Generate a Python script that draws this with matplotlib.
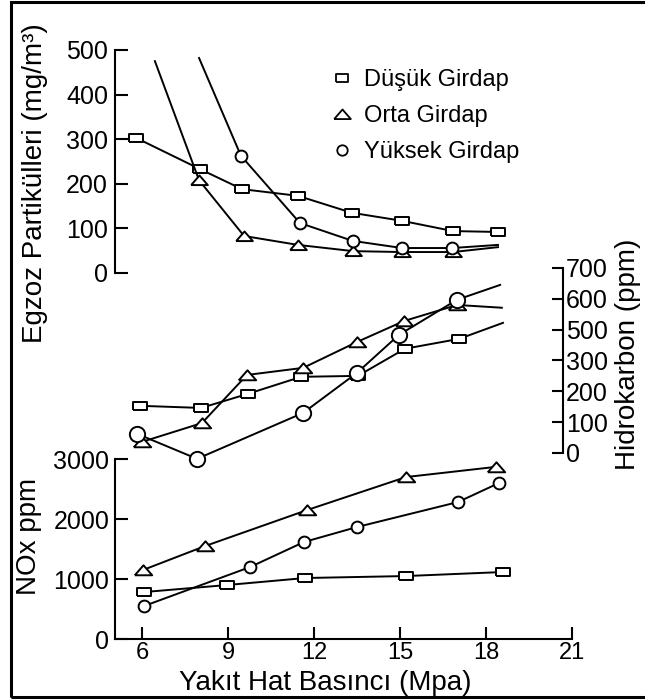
import numpy as np
import matplotlib
matplotlib.use("Agg")
import matplotlib.pyplot as plt
from matplotlib.lines import Line2D
from matplotlib.patches import Rectangle

plt.rcParams["font.family"] = ["Liberation Sans", "DejaVu Sans"]

# ===========================
# Data
# ===========================

series_names = ["Düşük Girdap", "Orta Girdap", "Yüksek Girdap"]

# Egzoz partikülleri (mg/m3)
pm_low_x = [5.79, 8.02, 9.49, 11.44, 13.32, 15.07, 16.85, 18.42]
pm_low_y = [303, 233, 188, 173, 135, 117, 94, 92]
pm_mid_x = [6.45, 7.99, 9.56, 11.44, 13.37, 15.07, 16.85, 18.42]
pm_mid_y = [475, 208, 83, 63, 49, 47, 47, 58]
pm_high_x = [7.99, 9.45, 11.51, 13.35, 15.07, 16.82, 18.42]
pm_high_y = [482, 263, 112, 72, 56, 56, 63]

# Hidrokarbon (ppm)
hc_low_x = [5.93, 8.06, 9.70, 11.55, 13.53, 15.17, 17.06, 18.59]
hc_low_y = [153, 146, 192, 247, 250, 376, 440, 522]
hc_mid_x = [6.00, 8.09, 9.66, 11.62, 13.50, 15.14, 16.99, 18.55]
hc_mid_y = [36, 97, 253, 276, 420, 528, 580, 571]
hc_high_x = [5.83, 7.92, 11.62, 13.50, 14.96, 16.99, 18.49]
hc_high_y = [62, -19, 130, 260, 466, 597, 645]
hc_ticks = [0, 100, 200, 300, 500, 600, 700]

# NOx (ppm)
nox_low_x = [6.07, 8.96, 11.69, 15.21, 18.59]
nox_low_y = [783, 900, 1017, 1050, 1117]
nox_mid_x = [6.03, 8.20, 11.76, 15.21, 18.35]
nox_mid_y = [1150, 1550, 2150, 2700, 2870]
nox_high_x = [6.07, 9.77, 11.65, 13.50, 17.02, 18.45]
nox_high_y = [550, 1200, 1617, 1867, 2283, 2600]

x_ticks = [6, 9, 12, 15, 18, 21]

# ===========================
# Styles
# ===========================

RECT = [(-1, -0.6), (1, -0.6), (1, 0.6), (-1, 0.6), (-1, -0.6)]
TRI = [(-1, -0.55), (1, -0.55), (0, 0.6), (-1, -0.55)]
LW = 1.4
TICK_FS = 18
LABEL_FS = 20


def draw(ax, x, y, marker, ms, markevery=None):
    ax.plot(x, y, color="black", lw=LW, marker=marker, ms=ms,
            mfc="white", mec="black", mew=LW, markevery=markevery,
            clip_on=False, zorder=3)


def hc_forward(v):
    v = np.asarray(v, dtype=float)
    pos = np.interp(v, hc_ticks, np.arange(len(hc_ticks)))
    pos = np.where(v < 0, v / 100.0, pos)
    pos = np.where(v > 700, 6 + (v - 700) / 100.0, pos)
    return pos


def hc_inverse(p):
    p = np.asarray(p, dtype=float)
    v = np.interp(p, np.arange(len(hc_ticks)), hc_ticks)
    v = np.where(p < 0, p * 100.0, v)
    v = np.where(p > 6, 700 + (p - 6) * 100.0, v)
    return v


fig = plt.figure(figsize=(6.45, 7.0), dpi=100)

ax_pm = fig.add_axes([0.1783, 0.6100, 0.7085, 0.3186])
ax_hc = fig.add_axes([0.1783, 0.3529, 0.6946, 0.2643])
ax_nox = fig.add_axes([0.1783, 0.0871, 0.7085, 0.2571])

for ax in (ax_pm, ax_hc, ax_nox):
    ax.set_facecolor("none")
    for s in ax.spines.values():
        s.set_linewidth(1.5)

# ===========================
# Top panel: particulates
# ===========================

draw(ax_pm, pm_low_x, pm_low_y, RECT, 10)
draw(ax_pm, pm_mid_x, pm_mid_y, TRI, 12, markevery=slice(1, 7))
draw(ax_pm, pm_high_x, pm_high_y, "o", 8.5, markevery=slice(1, 6))

ax_pm.set_xlim(5.058, 21.0)
ax_pm.set_ylim(0, 500)
ax_pm.set_yticks([0, 100, 200, 300, 400, 500])
for side in ("top", "right", "bottom"):
    ax_pm.spines[side].set_visible(False)
ax_pm.tick_params(axis="x", bottom=False, labelbottom=False)
ax_pm.tick_params(axis="y", direction="in", length=9, width=1.5,
                  labelsize=TICK_FS, pad=5)

# ===========================
# Middle panel: hydrocarbon
# ===========================

draw(ax_hc, hc_low_x, hc_low_y, RECT, 9.5, markevery=slice(0, 7))
draw(ax_hc, hc_mid_x, hc_mid_y, TRI, 12.5, markevery=slice(0, 7))
draw(ax_hc, hc_high_x, hc_high_y, "o", 11, markevery=slice(0, 6))

ax_hc.set_yscale("function", functions=(hc_forward, hc_inverse))
ax_hc.set_xlim(5.058, 20.684)
ax_hc.set_ylim(0, 700)
ax_hc.set_yticks(hc_ticks)
ax_hc.set_yticklabels([str(t) for t in hc_ticks])
ax_hc.yaxis.set_minor_locator(matplotlib.ticker.NullLocator())
for side in ("top", "left", "bottom"):
    ax_hc.spines[side].set_visible(False)
ax_hc.tick_params(axis="x", bottom=False, labelbottom=False)
ax_hc.tick_params(axis="y", which="both", left=False, labelleft=False,
                  right=True, labelright=True, direction="in", length=8,
                  width=1.5, labelsize=TICK_FS, pad=2)

# ===========================
# Bottom panel: NOx
# ===========================

draw(ax_nox, nox_low_x, nox_low_y, RECT, 10)
draw(ax_nox, nox_mid_x, nox_mid_y, TRI, 12.5)
draw(ax_nox, nox_high_x, nox_high_y, "o", 8.5)

ax_nox.set_xlim(5.058, 21.0)
ax_nox.set_ylim(0, 3000)
ax_nox.set_xticks(x_ticks)
ax_nox.set_yticks([0, 1000, 2000, 3000])
for side in ("top", "right"):
    ax_nox.spines[side].set_visible(False)
ax_nox.tick_params(axis="both", direction="in", length=9, width=1.5,
                   labelsize=TICK_FS, pad=4)
ax_nox.tick_params(axis="x", labelsize=17, pad=2)

# ===========================
# Labels
# ===========================

fig.text(35 / 645, 1 - 183 / 700, "Egzoz Partikülleri (mg/m³)",
         rotation=90, ha="center", va="center", fontsize=LABEL_FS)
fig.text(29 / 645, 1 - 536 / 700, "NOx ppm",
         rotation=90, ha="center", va="center", fontsize=LABEL_FS)
fig.text(628 / 645, 1 - 354 / 700, "Hidrokarbon (ppm)",
         rotation=90, ha="center", va="center", fontsize=LABEL_FS)
fig.text(325 / 645, 1 - 683 / 700, "Yakıt Hat Basıncı (Mpa)",
         ha="center", va="center", fontsize=LABEL_FS)

# ===========================
# Legend
# ===========================

handles = [
    Line2D([], [], ls="none", marker=RECT, ms=8.5, mfc="white", mec="black", mew=1.3),
    Line2D([], [], ls="none", marker=TRI, ms=12, mfc="white", mec="black", mew=1.3),
    Line2D([], [], ls="none", marker="o", ms=7.5, mfc="white", mec="black", mew=1.3),
]
fig.legend(handles, series_names, loc="upper left",
           bbox_to_anchor=(318 / 645, 1 - 57 / 700), frameon=False,
           fontsize=17, handlelength=1.0, handletextpad=0.45,
           labelspacing=0.6, borderpad=0.0)

# Frame around the figure
fig.add_artist(Rectangle((10.5 / 645, 3 / 700), 1.2, 695.5 / 700,
                         transform=fig.transFigure, fill=False,
                         lw=2.2, ec="black", clip_on=False))

fig.savefig("out.png", dpi=100)
plt.close(fig)
